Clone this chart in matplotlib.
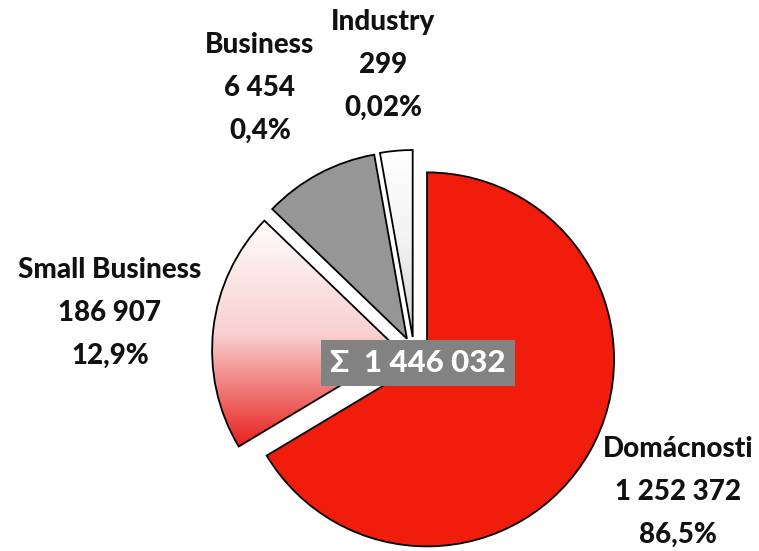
import numpy as np
import matplotlib
matplotlib.use('Agg')
import matplotlib.pyplot as plt
from matplotlib.colors import LinearSegmentedColormap

# ==============================
# Data
# ==============================

categories = ['Domácnosti', 'Small Business', 'Business', 'Industry']
counts = [1252372, 186907, 6454, 299]
pct_labels = ['86,5%', '12,9%', '0,4%', '0,02%']
# slice sizes as drawn in the chart (not proportional to counts)
drawn_share = [66.4, 20.8, 10.0, 2.8]

total = sum(counts)

def fmt(n):
    return f'{n:,}'.replace(',', ' ')

# ==============================
# Figure
# ==============================

plt.rcParams['font.family'] = ['Lato', 'DejaVu Sans']

W, H = 759, 551
fig = plt.figure(figsize=(W / 100, H / 100), dpi=100)
ax = fig.add_axes([0, 0, 1, 1])

colors = ['#f01c0c', 'none', '#969696', 'none']
wedges, _ = ax.pie(drawn_share, colors=colors, startangle=90, counterclock=False,
                   center=(414, H - 352), radius=187, explode=[15, 15, 15, 15],
                   wedgeprops=dict(edgecolor='black', linewidth=1.3))

ax.set_aspect('auto')
ax.axis('off')

# vertical gradient fills for two slices
gradients = {1: ['#fffcfc', '#f8d0d0', '#e8201c'], 3: ['#ffffff', '#f2f2f2', '#d0d0d0']}
for i, cols in gradients.items():
    w = wedges[i]
    ext = w.get_path().get_extents()
    cmap = LinearSegmentedColormap.from_list('g%d' % i, cols)
    grad = np.linspace(0, 1, 256).reshape(-1, 1)
    im = ax.imshow(grad, cmap=cmap, aspect='auto', origin='upper',
                   extent=(ext.x0, ext.x1, ext.y0, ext.y1), zorder=w.get_zorder() - 0.1)
    im.set_clip_path(w)
ax.set_xlim(0, W)
ax.set_ylim(0, H)

# ==============================
# Labels
# ==============================

label_pos = [(678, 449), (110, 270), (260, 45), (383, 22)]
line_gap = 43
for name, n, pct, (x, y) in zip(categories, counts, pct_labels, label_pos):
    for k, line in enumerate([name, fmt(n), pct]):
        ax.text(x, H - (y + k * line_gap), line, ha='center', va='center',
                fontsize=20, fontweight='black', color='#111111')

# total box
ax.text(418, H - 363, '\u03a3  ' + fmt(total), ha='center', va='center',
        fontsize=22.5, fontweight='black', color='white', zorder=10,
        bbox=dict(boxstyle='square,pad=0.28', facecolor='#828282', edgecolor='none'))

fig.savefig('out.png', dpi=100)
